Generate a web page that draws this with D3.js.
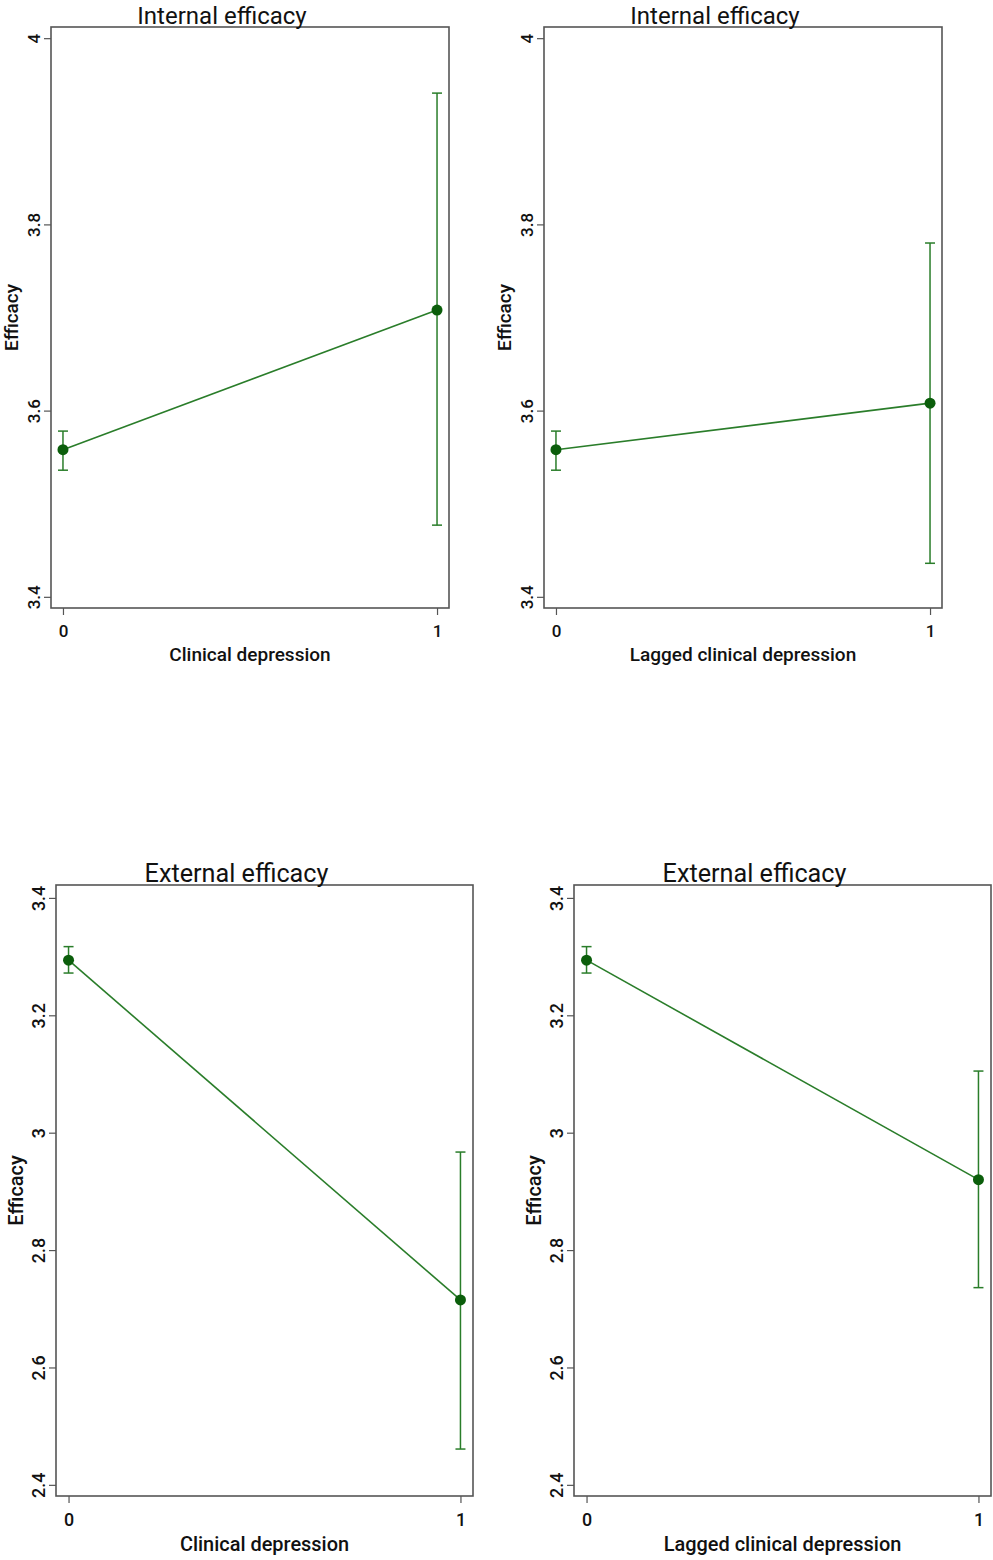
<!DOCTYPE html>
<html>
<head>
<meta charset="utf-8">
<script src="https://cdn.jsdelivr.net/npm/d3@7"></script>
<style>
  html, body { margin: 0; padding: 0; background: #fff; }
  svg { display: block; }
  text { font-family: Roboto, "Noto Sans", sans-serif; fill: #111; }
</style>
</head>
<body>
<svg id="chart" width="993" height="1560"></svg>
<script>
// Predicted efficacy by depression status (margins with 95% CIs)
const panelTitles = ["Internal efficacy", "Internal efficacy", "External efficacy", "External efficacy"];
const xTitles = ["Clinical depression", "Lagged clinical depression", "Clinical depression", "Lagged clinical depression"];
const yTitle = "Efficacy";
const levels = [0, 1];

const estimates = [
  [3.558, 3.708],
  [3.558, 3.608],
  [3.294, 2.715],
  [3.294, 2.920]
];
const lowerCI = [
  [3.536, 3.477],
  [3.536, 3.436],
  [3.272, 2.461],
  [3.272, 2.736]
];
const upperCI = [
  [3.578, 3.941],
  [3.578, 3.780],
  [3.317, 2.967],
  [3.317, 3.105]
];

const yTicksInternal = [3.4, 3.6, 3.8, 4];
const yTicksExternal = [2.4, 2.6, 2.8, 3, 3.2, 3.4];
const yDomainInternal = [3.388, 4.012];
const yDomainExternal = [2.381, 3.422];

// Plot-region frames (left, top, right, bottom) for the 2x2 grid
const frames = [
  { x0: 51,  y0: 27,  x1: 449, y1: 608 },
  { x0: 544, y0: 27,  x1: 942, y1: 608 },
  { x0: 56,  y0: 885, x1: 473, y1: 1496 },
  { x0: 574, y0: 885, x1: 991, y1: 1496 }
];

const lineColor = "#2a7d2a";
const markerColor = "#0b5e0b";
const frameColor = "#555";

const svg = d3.select("#chart");

frames.forEach((f, i) => {
  const internal = i < 2;
  const yTicks = internal ? yTicksInternal : yTicksExternal;
  const yDomain = internal ? yDomainInternal : yDomainExternal;
  // lower row is rendered slightly larger
  const fs = internal ? 1 : 1.05;

  const x = d3.scaleLinear().domain([-0.032, 1.032]).range([f.x0, f.x1]);
  const y = d3.scaleLinear().domain(yDomain).range([f.y1, f.y0]);

  const g = svg.append("g");

  // y axis ticks + rotated labels
  const yAxis = d3.axisLeft(y).tickValues(yTicks).tickSize(7).tickPadding(9)
    .tickFormat(d3.format(""));
  const ya = g.append("g").attr("transform", `translate(${f.x0},0)`).call(yAxis);
  ya.select(".domain").remove();
  ya.selectAll(".tick line").attr("stroke", frameColor).attr("stroke-width", 1.2);
  ya.selectAll(".tick text")
    .attr("x", null).attr("dy", null)
    .attr("transform", `translate(-17,0) rotate(-90)`)
    .attr("text-anchor", "middle")
    .attr("dy", "0.35em")
    .style("font-size", `${17 * fs}px`)
    .style("font-weight", 500)
    .attr("fill", "#111");

  // x axis ticks + labels
  const xAxis = d3.axisBottom(x).tickValues(levels).tickSize(7).tickPadding(10)
    .tickFormat(d3.format("d"));
  const xa = g.append("g").attr("transform", `translate(0,${f.y1})`).call(xAxis);
  xa.select(".domain").remove();
  xa.selectAll(".tick line").attr("stroke", frameColor).attr("stroke-width", 1.2);
  xa.selectAll(".tick text")
    .style("font-size", `${17 * fs}px`)
    .style("font-weight", 500)
    .attr("fill", "#111");

  // plot frame
  g.append("rect")
    .attr("x", f.x0).attr("y", f.y0)
    .attr("width", f.x1 - f.x0).attr("height", f.y1 - f.y0)
    .attr("fill", "none").attr("stroke", frameColor).attr("stroke-width", 1.6);

  // title
  g.append("text")
    .attr("x", (f.x0 + f.x1) / 2 - 28)
    .attr("y", f.y0 - 3)
    .attr("text-anchor", "middle")
    .style("font-size", `${24 * fs}px`)
    .text(panelTitles[i]);

  // x axis title
  g.append("text")
    .attr("x", (f.x0 + f.x1) / 2)
    .attr("y", f.y1 + (internal ? 53 : 55))
    .attr("text-anchor", "middle")
    .style("font-size", `${19 * fs}px`)
    .style("font-weight", 500)
    .text(xTitles[i]);

  // y axis title
  g.append("text")
    .attr("transform", `translate(${f.x0 - 33},${(f.y0 + f.y1) / 2}) rotate(-90)`)
    .attr("text-anchor", "middle")
    .style("font-size", `${19 * fs}px`)
    .style("font-weight", 500)
    .text(yTitle);

  const pts = levels.map((lv, k) => ({
    lv, est: estimates[i][k], lo: lowerCI[i][k], hi: upperCI[i][k]
  }));

  // confidence intervals
  const ci = g.append("g").attr("stroke", lineColor).attr("stroke-width", 1.5).attr("fill", "none");
  pts.forEach(p => {
    ci.append("line").attr("x1", x(p.lv)).attr("x2", x(p.lv)).attr("y1", y(p.lo)).attr("y2", y(p.hi));
    ci.append("line").attr("x1", x(p.lv) - 5).attr("x2", x(p.lv) + 5).attr("y1", y(p.lo)).attr("y2", y(p.lo));
    ci.append("line").attr("x1", x(p.lv) - 5).attr("x2", x(p.lv) + 5).attr("y1", y(p.hi)).attr("y2", y(p.hi));
  });

  // connecting line
  g.append("path")
    .datum(pts)
    .attr("fill", "none")
    .attr("stroke", lineColor)
    .attr("stroke-width", 1.6)
    .attr("d", d3.line().x(p => x(p.lv)).y(p => y(p.est)));

  // point estimates
  g.selectAll("circle.est").data(pts).join("circle")
    .attr("class", "est")
    .attr("cx", p => x(p.lv)).attr("cy", p => y(p.est))
    .attr("r", 5.5)
    .attr("fill", markerColor);
});
</script>
</body>
</html>
